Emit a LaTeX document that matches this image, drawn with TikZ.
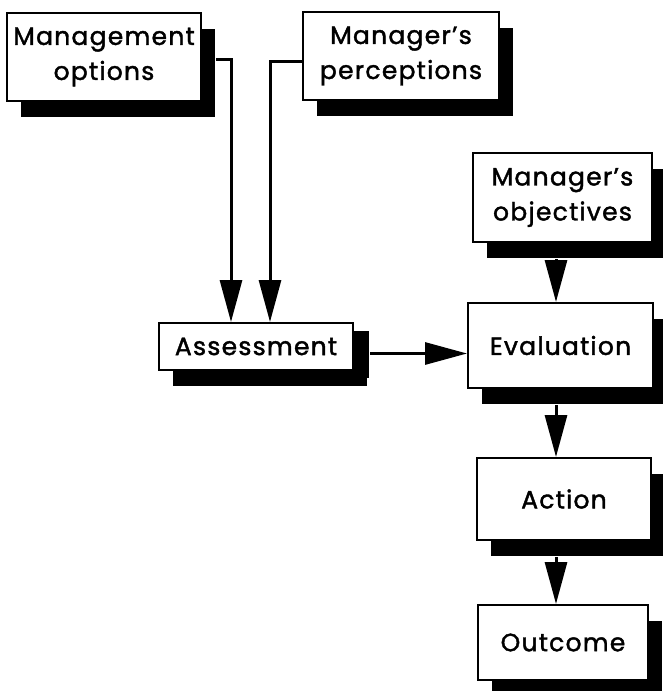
\documentclass[tikz,border=0pt]{standalone}
\usepackage{fontspec}
\newfontfamily\boxfont{Poppins}[LetterSpace=5, FakeBold=1.6]
\usetikzlibrary{arrows.meta,shadows,calc}
\tikzset{
  box/.style={draw=black, line width=2pt, fill=white, align=center, inner sep=0pt,
    font=\boxfont\fontsize{25}{35}\selectfont,
    drop shadow={shadow xshift=14pt, shadow yshift=-16pt, opacity=1, fill=black}},
  conn/.style={line width=3pt, -{Triangle[length=42pt, width=22pt]}},
}
\begin{document}
\begin{tikzpicture}[x=1pt, y=-1pt]
\useasboundingbox (0,0) rectangle (663,691);
\node[box, minimum width=194pt, minimum height=88pt] (mgmt) at (104,57) {Management\\options};
\node[box, minimum width=196pt, minimum height=88pt] (perc) at (401,56) {Manager’s\\perceptions};
\node[box, minimum width=194pt, minimum height=47pt,
  drop shadow={shadow xshift=16pt, shadow yshift=-8pt, opacity=1, fill=black}] (assess) at (256,346.5) {Assessment};
\node[box, minimum width=179pt, minimum height=89pt] (obj) at (562.5,197.5) {Manager’s\\objectives};
\node[box, minimum width=185pt, minimum height=85pt] (eval) at (560.5,345.5) {Evaluation};
\node[box, minimum width=174pt, minimum height=82pt] (action) at (564,499) {Action};
\node[box, minimum width=170pt, minimum height=75pt] (outcome) at (563,642.5) {Outcome};
\coordinate (m0) at ([xshift=14pt, yshift=-2pt]mgmt.east);
\coordinate (p0) at ([yshift=-5pt]perc.west);
\coordinate (ax1) at (231,0);
\coordinate (ax2) at (270,0);
\coordinate (a0) at ([xshift=16pt, yshift=-7pt]assess.east);
\coordinate (vx) at (556,0);
\draw[conn] (m0) -| (ax1 |- assess.north);
\draw[conn] (p0) -| (ax2 |- assess.north);
\draw[conn] (a0) -- (a0 -| eval.west);
\draw[conn] (vx |- {$(obj.south)+(0,16)$}) -- (vx |- eval.north);
\draw[conn] (vx |- {$(eval.south)+(0,16)$}) -- (vx |- action.north);
\draw[conn] (vx |- {$(action.south)+(0,16)$}) -- (vx |- outcome.north);
\end{tikzpicture}
\end{document}
